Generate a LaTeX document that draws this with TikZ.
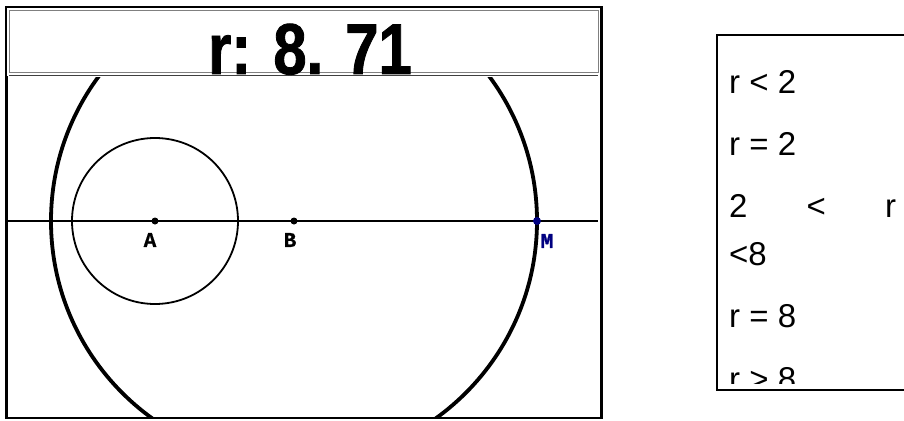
\documentclass[tikz,border=0pt]{standalone}
\usepackage{fontspec}
\setmainfont{Liberation Sans}
\newfontfamily\titlefont[FakeStretch=0.83,BoldFeatures={FakeBold=1.2}]{Liberation Sans}
\newfontfamily\boxfont{Liberation Sans}
\newfontfamily\labelfont[BoldFeatures={FakeBold=1}]{Liberation Mono}
\usetikzlibrary{positioning}
\definecolor{pointnavy}{RGB}{0,0,128}
\definecolor{framegray}{RGB}{128,128,128}

\begin{document}
\begin{tikzpicture}[x=1pt,y=-1pt,
    ptlabel/.style={font=\labelfont\bfseries\fontsize{21}{21}\selectfont,inner sep=0pt},
    caseline/.style={font=\boxfont\fontsize{33}{33}\selectfont,anchor=base west,inner sep=0pt}]
  \useasboundingbox (0,0) rectangle (904,420);
  \coordinate (A) at (155,221);
  \coordinate (B) at (294,221);
  \coordinate (M) at (537,221);
  \coordinate (lineL) at (8,221);
  \coordinate (lineR) at (598,221);
  % frame and title bar
  \draw[line width=1.2pt] (6,7) rectangle (602,418);
  \draw[line width=2.8pt] (6.5,76) -- (6.5,418);
  \draw[line width=2.8pt] (601.5,8) -- (601.5,418);
  \draw[framegray,line width=0.9pt] (9,10) rectangle (598,72);
  \draw[black!75,line width=1.2pt] (9,75.5) -- (598,75.5);
  % construction
  \begin{scope}
    \clip (7,77) rectangle (600,417);
    \draw[line width=3.8pt] (B) circle[radius=243pt];
  \end{scope}
  \draw[line width=1.8pt] (A) circle[radius=83pt];
  \draw[line width=1.8pt] (lineL) -- (lineR);
  \fill (A) circle[radius=3.5pt];
  \fill (B) circle[radius=3.5pt];
  \fill[pointnavy] (M) circle[radius=4pt];
  \node[ptlabel] (labA) at (150,240) {A};
  \node[ptlabel] (labB) at (290,240) {B};
  \node[ptlabel,text=pointnavy] (labM) at (547,241) {M};
  \node[font=\titlefont\bfseries\fontsize{72}{72}\selectfont,anchor=base,inner sep=0pt]
    (title) at (310,74) {r: 8. 71};
  % cases box
  \draw[line width=1.8pt] (904,35) -- (717,35) -- (717,390) -- (904,390);
  \begin{scope}
    \clip (718,36) rectangle (904,383);
    \node[caseline] (c1) at (729,93) {r < 2};
    \node[caseline] (c2) at (729,155) {r = 2};
    \node[caseline] (c3) at (729,217) {\hbox to 167pt{2\hfil<\hfil r}};
    \node[caseline] (c3b) at (729,265) {<8};
    \node[caseline] (c4) at (729,327) {r = 8};
    \node[caseline] (c5) at (729,390) {r > 8};
  \end{scope}
\end{tikzpicture}
\end{document}
